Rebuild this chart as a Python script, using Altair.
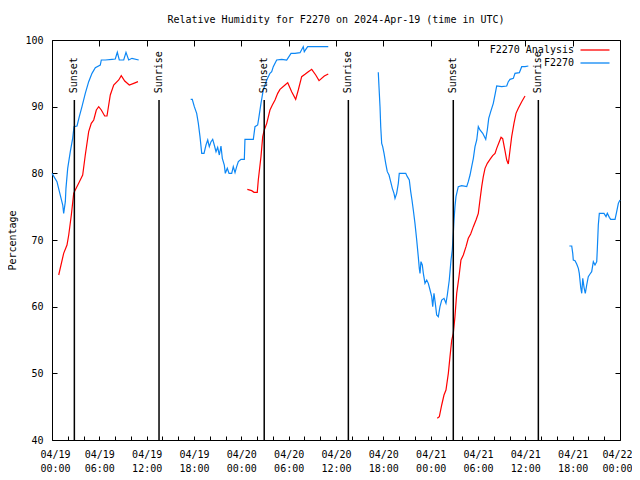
import altair as alt
import pandas as pd

FONT = "DejaVu Sans Mono"
BASE = pd.Timestamp("2024-04-19T00:00:00Z")

# ---- observed F2270 (hours since 2024-04-19 00:00 UTC, % RH), four segments ----
obs1_h = [0.00, 0.63, 0.93, 1.36, 1.48, 1.69, 1.77, 1.99, 2.32, 2.62, 2.79, 3.17, 3.46, 3.80, 4.22,
          4.65, 5.07, 5.49, 6.12, 6.25, 6.76, 7.61, 8.02, 8.28, 8.53, 9.09, 9.38, 9.72, 10.14, 10.99]
obs1_v = [80, 78.75, 77.3, 75.25, 74, 75.75, 77.75, 80.75, 83.25, 85.25, 87, 87.1, 88.5, 90, 92,
          93.75, 95, 95.85, 96.25, 97, 97, 97.1, 97.15, 98.15, 97, 97, 98.15, 97, 97.25, 97]

obs2_h = [17.58, 17.78, 18.04, 18.34, 18.55, 18.76, 18.98, 19.27, 19.52, 19.74, 19.94, 20.16, 20.37,
          20.57, 20.79, 21.00, 21.21, 21.42, 21.59, 21.84, 21.97, 22.22, 22.44, 22.78, 22.98, 23.20,
          23.41, 23.62, 23.96, 24.38, 24.46, 25.52, 25.73, 26.07, 26.24, 26.49, 26.78, 27.22, 27.63,
          27.85, 28.05, 28.48, 29.12, 29.75, 30.30, 30.80, 31.44, 31.85, 31.98, 32.41, 35.02]
obs2_v = [91.1, 91.1, 90, 89, 87.5, 85.5, 83, 83, 84.25, 85, 84, 84.75, 85.1,
          84.25, 83.25, 83.9, 82.75, 84.1, 82.25, 81.25, 80, 80.75, 80, 80, 81, 80.1,
          81, 81.75, 82.1, 82.1, 85.1, 85.1, 87, 87.25, 88.5, 90.5, 92.5, 94, 95,
          95.25, 96, 97, 97.1, 97, 98, 98, 98.1, 99, 98.25, 99, 99]

obs3_h = [41.36, 41.45, 41.58, 41.67, 41.79, 41.92, 42.09, 42.30, 42.50, 42.72,
          42.93, 43.14, 43.35, 43.48, 43.69, 43.90, 44.02, 44.84, 45.04, 45.29,
          45.47, 45.63, 45.80, 46.01, 46.23, 46.43, 46.56, 46.65, 46.77, 46.94,
          47.07, 47.28, 47.50, 47.70, 47.92, 48.13, 48.26, 48.42, 48.59, 48.76,
          48.97, 49.18, 49.40, 49.69, 49.94, 50.11, 50.36, 50.58, 50.74, 50.87,
          50.96, 51.08, 51.21, 51.50, 51.93, 52.57, 52.77, 52.99, 53.20, 53.41,
          53.62, 53.84, 54.04, 54.25, 54.60, 54.98, 55.18, 55.36, 55.61, 55.94,
          56.19, 56.37, 57.00, 57.64, 57.84, 58.06, 58.48, 58.69, 59.24, 59.54,
          59.96, 60.38]
obs3_v = [95.15, 93, 90, 87, 84.5, 84, 83, 81.5, 80.25, 79.75,
          78.75, 77.75, 77, 76.25, 77, 78.5, 80, 80, 79.5, 79,
          77.25, 76, 74.5, 72.5, 70, 67.5, 65.75, 65, 66.75, 66.25,
          65, 63.5, 64, 63.5, 62.5, 61.5, 60, 62, 60.5, 58.75,
          58.5, 60, 61, 61.25, 60.5, 61.75, 64, 67, 68.5, 71,
          73, 75, 76.5, 78, 78.15, 78, 78.75, 79.75, 81, 82.25,
          84, 85, 87, 86.5, 86, 85.1, 86.5, 88.25, 89.25, 90.5,
          92, 93.1, 93, 93.1, 93.75, 94.1, 94.25, 95, 95.1, 96,
          96, 96.1]

obs4_h = [65.58, 65.88, 66.01, 66.08, 66.30, 66.51, 66.72, 66.84, 67.02, 67.15,
          67.28, 67.44, 67.60, 67.78, 67.98, 68.20, 68.41, 68.62, 68.83, 69.05,
          69.12, 69.25, 69.38, 69.97, 70.23, 70.39, 70.65, 70.82, 71.37, 71.58,
          71.79, 72.00]
obs4_v = [69.1, 69.1, 68, 67, 66.9, 66.4, 65.75, 65, 62.9, 62,
          64.25, 62.9, 62, 63.25, 64.5, 64.9, 65.25, 66.75, 66.25, 66.75,
          68.5, 72.25, 74, 74, 73.5, 74, 73.4, 73.1, 73.1, 74.25,
          75.5, 76]

# ---- F2270 Analysis, three segments ----
ana1_h = [0.85, 1.48, 1.90, 2.12, 2.45, 2.75, 2.95, 3.38, 3.89, 4.22, 4.65, 4.98, 5.29, 5.62,
          5.92, 6.25, 6.68, 6.97, 7.39, 7.82, 8.46, 8.78, 9.22, 9.80, 10.36, 10.90]
ana1_v = [64.75, 68, 69.25, 70.75, 73.75, 77, 77.5, 78.5, 79.75, 82.75, 86.25, 87.5, 88, 89.5,
          90, 89.5, 88.6, 88.6, 91.75, 93.25, 94, 94.65, 93.85, 93.25, 93.5, 93.75]

ana2_h = [24.76, 25.31, 25.61, 26.02, 26.15, 26.49, 26.71, 26.91, 27.22, 27.63, 27.93, 28.27, 28.61,
          28.90, 29.54, 29.88, 30.38, 30.89, 31.22, 31.65, 32.07, 32.49, 32.92, 33.43, 33.85, 34.52,
          35.02]
ana2_v = [77.6, 77.4, 77.15, 77.15, 79, 82.5, 85.5, 86.5, 87.5, 89.5, 90.25, 91, 92,
          92.6, 93.25, 93.6, 92.25, 91.1, 92.5, 94.5, 94.85, 95.25, 95.6, 94.75, 93.9, 94.6,
          94.9]

ana3_h = [48.84, 49.10, 49.40, 49.69, 49.94, 50.24, 50.45, 50.67, 50.87, 51.08,
          51.30, 51.59, 51.84, 52.14, 52.48, 52.77, 53.07, 53.41, 53.75, 54.04,
          54.25, 54.47, 54.67, 54.89, 55.18, 55.52, 55.86, 56.16, 56.37, 56.70,
          56.92, 57.13, 57.42, 57.64, 57.84, 58.06, 58.27, 58.56, 58.82, 59.11,
          59.54, 59.96]
ana3_v = [43.25, 43.5, 45.25, 46.75, 47.5, 50, 52.5, 55, 56, 58.5,
          62, 64.5, 67, 67.75, 69, 70.25, 70.9, 72, 73, 74,
          76, 78, 79.5, 80.75, 81.5, 82.1, 82.65, 83, 83.75, 84.75,
          85.4, 85.2, 83.4, 82, 81.4, 83.5, 85.5, 87.5, 89, 89.75,
          90.75, 91.6]

# ---- sunrise / sunset markers ----
event_times = ["2024-04-19T02:50:00Z", "2024-04-19T13:34:00Z", "2024-04-20T02:54:00Z",
               "2024-04-20T13:34:00Z", "2024-04-21T02:52:00Z", "2024-04-21T13:39:00Z"]
event_labels = ["Sunset", "Sunrise", "Sunset", "Sunrise", "Sunset", "Sunrise"]
EVENT_LINE_BOTTOM = 40
EVENT_LINE_TOP = 91
EVENT_LABEL_Y = 92

SERIES_ANA = "F2270 Analysis"
SERIES_OBS = "F2270"
series_names = [SERIES_ANA, SERIES_OBS]
series_colors = ["#ff0000", "#0c87f5"]

y_ticks = [40, 50, 60, 70, 80, 90, 100]
major_hours = list(range(0, 73, 6))
tick_hours = list(range(0, 73, 2))


def to_iso(hours):
    return [(BASE + pd.Timedelta(hours=h)).strftime("%Y-%m-%dT%H:%M:%SZ") for h in hours]


def to_ms(hours):
    return [int((BASE + pd.Timedelta(hours=h)).value // 10**6) for h in hours]


rows = []
for seg, (hs, vs, name) in enumerate([
    (ana1_h, ana1_v, SERIES_ANA), (ana2_h, ana2_v, SERIES_ANA), (ana3_h, ana3_v, SERIES_ANA),
    (obs1_h, obs1_v, SERIES_OBS), (obs2_h, obs2_v, SERIES_OBS), (obs3_h, obs3_v, SERIES_OBS),
    (obs4_h, obs4_v, SERIES_OBS),
]):
    for t, v in zip(to_iso(hs), vs):
        rows.append({"t": t, "v": v, "series": name, "seg": seg})
df = pd.DataFrame(rows)

ev = pd.DataFrame({"t": event_times, "label": event_labels,
                   "ty": [EVENT_LABEL_Y] * len(event_times)})

xscale = alt.Scale(type="utc", domain=to_ms([0, 72]), nice=False)
yscale = alt.Scale(domain=[40, 100], nice=False, zero=False)

common_axis = dict(domain=False, grid=False, tickColor="black", tickWidth=1,
                   labelFont=FONT, labelFontSize=10, labelColor="black")

ax_bottom = alt.Axis(orient="bottom", values=to_ms(tick_hours), offset=-4, tickSize=4,
                     labelExpr="utchours(datum.value) % 6 == 0 ? "
                               "[utcFormat(datum.value, '%m/%d'), utcFormat(datum.value, '%H:%M')] : ''",
                     labelPadding=9, labelLineHeight=14, labelFlush=True, labelFlushOffset=12,
                     labelOverlap=False, labelBound=False, title=None, **common_axis)
ax_top = alt.Axis(orient="top", values=to_ms(major_hours), offset=-6, tickSize=6, labels=False,
                  title=None, **common_axis)
ax_left = alt.Axis(orient="left", values=y_ticks, offset=-5, tickSize=5, labelPadding=9,
                   title="Percentage", titleFont=FONT, titleFontSize=10, titleFontWeight="normal",
                   titleColor="black", titleX=-45, titleY=200, titleAngle=270,
                   titleAlign="center", titleBaseline="middle", **common_axis)
ax_right = alt.Axis(orient="right", values=y_ticks, offset=-5, tickSize=5, labels=False,
                    title=None, **common_axis)

lines = alt.Chart(df).mark_line(strokeWidth=1.2, interpolate="linear").encode(
    x=alt.X("t:T", scale=xscale, axis=ax_bottom),
    y=alt.Y("v:Q", scale=yscale, axis=ax_left),
    color=alt.Color("series:N", scale=alt.Scale(domain=series_names, range=series_colors),
                    legend=alt.Legend(orient="none", legendX=538, legendY=5, title=None,
                                      direction="vertical", symbolType="M-7.25,0H7.25",
                                      symbolSize=16, symbolStrokeWidth=1.3, labelAlign="right",
                                      labelOffset={"expr": "-26"}, labelFont=FONT,
                                      labelFontSize=10, labelColor="black", rowPadding=3,
                                      padding=0)),
    detail="seg:N",
    order=alt.Order("t:T"),
)

rules = alt.Chart(ev).mark_rule(color="black", strokeWidth=1.5).encode(
    x=alt.X("t:T", scale=xscale, axis=ax_top),
    y=alt.YDatum(EVENT_LINE_BOTTOM, scale=yscale, axis=ax_right),
    y2=alt.Y2Datum(EVENT_LINE_TOP),
)

labels = alt.Chart(ev).mark_text(angle=270, align="left", baseline="middle", font=FONT,
                                 fontSize=10, color="black").encode(
    x=alt.X("t:T", scale=xscale, axis=None),
    y=alt.Y("ty:Q", scale=yscale, axis=None),
    text="label:N",
)

chart = alt.layer(lines, rules, labels).resolve_axis(
    x="independent", y="independent"
).properties(
    width=568, height=400,
    padding={"left": 44, "top": 32, "right": 12, "bottom": 36},
    autosize=alt.AutoSizeParams(type="none"),
    title=alt.Title("Relative Humidity for F2270 on 2024-Apr-19 (time in UTC)", font=FONT,
                    fontSize=10, fontWeight="normal", color="black", anchor="middle",
                    frame="group", offset=10),
    background="white",
).configure_view(stroke="black", strokeWidth=1)

chart.save("out.html", embed_options={"renderer": "svg", "actions": False})
